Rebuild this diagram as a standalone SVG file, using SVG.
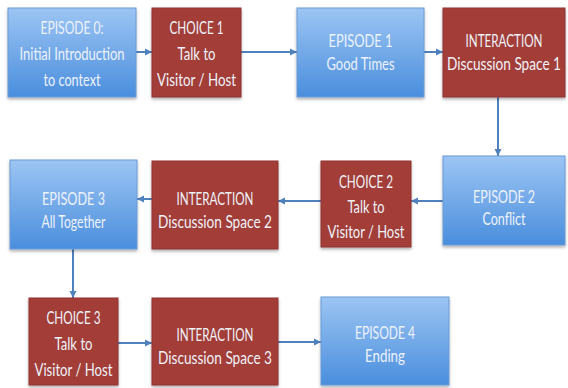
<svg xmlns="http://www.w3.org/2000/svg" width="568" height="388" viewBox="0 0 568 388">
<defs>
<linearGradient id="blue" x1="0" y1="0" x2="0" y2="1">
<stop offset="0" stop-color="#9cc5f3"/>
<stop offset="1" stop-color="#4a8edd"/>
</linearGradient>
<filter id="sh" x="-10%" y="-10%" width="120%" height="125%">
<feDropShadow dx="0" dy="2" stdDeviation="1.5" flood-color="#000" flood-opacity="0.3"/>
</filter>
<marker id="ah" markerWidth="8" markerHeight="8" refX="7" refY="4" orient="auto" markerUnits="userSpaceOnUse">
<path d="M0,0.5 L7,4 L0,7.5 Z" fill="#4f81bd"/>
</marker>
<style>
.b{fill:url(#blue);stroke:#6a9ad6;stroke-width:1;filter:url(#sh)}
.r{fill:#a23d39;stroke:#8f3330;stroke-width:1;filter:url(#sh)}
text{font-family:Lato,"Liberation Sans",sans-serif;font-size:18px;fill:#eef2f9;text-anchor:middle}
.c line{stroke:#4f81bd;stroke-width:2;marker-end:url(#ah)}
</style>
</defs>
<g class="c" id="connectors">
<line x1="136" y1="52" x2="152" y2="52"/>
<line x1="241" y1="52" x2="297" y2="52"/>
<line x1="424" y1="52" x2="443" y2="52"/>
<line x1="498" y1="97" x2="498" y2="156"/>
<line x1="443" y1="201" x2="411" y2="201"/>
<line x1="321" y1="201" x2="278" y2="201"/>
<line x1="152" y1="199" x2="137" y2="199"/>
<line x1="73" y1="249" x2="73" y2="298"/>
<line x1="118" y1="343" x2="152" y2="343"/>
<line x1="278" y1="342" x2="321" y2="342"/>
</g>
<g id="ep0"><rect class="b" x="8" y="8" width="128" height="89"/>
<text transform="translate(72,34) scale(0.75,1)" textLength="84" lengthAdjust="spacingAndGlyphs">EPISODE 0:</text>
<text transform="translate(72,60) scale(0.75,1)" textLength="140" lengthAdjust="spacingAndGlyphs">Initial Introduction</text>
<text transform="translate(72,86) scale(0.75,1)" textLength="76" lengthAdjust="spacingAndGlyphs">to context</text></g>
<g id="ch1"><rect class="r" x="152" y="8" width="89" height="89"/>
<text transform="translate(196.5,34) scale(0.75,1)" textLength="72" lengthAdjust="spacingAndGlyphs">CHOICE 1</text>
<text transform="translate(196.5,60) scale(0.75,1)" textLength="50.7" lengthAdjust="spacingAndGlyphs">Talk to</text>
<text transform="translate(196.5,86) scale(0.75,1)" textLength="105.3" lengthAdjust="spacingAndGlyphs">Visitor / Host</text></g>
<g id="ep1"><rect class="b" x="297" y="8" width="127" height="89"/>
<text transform="translate(360.5,47) scale(0.75,1)" textLength="85.3" lengthAdjust="spacingAndGlyphs">EPISODE 1</text>
<text transform="translate(360.5,70) scale(0.75,1)" textLength="90.7" lengthAdjust="spacingAndGlyphs">Good Times</text></g>
<g id="int1"><rect class="r" x="443" y="8" width="122" height="89"/>
<text transform="translate(504,47) scale(0.75,1)" textLength="102.7" lengthAdjust="spacingAndGlyphs">INTERACTION</text>
<text transform="translate(504,70) scale(0.75,1)" textLength="152" lengthAdjust="spacingAndGlyphs">Discussion Space 1</text></g>
<g id="ep2"><rect class="b" x="443" y="156" width="122" height="89"/>
<text transform="translate(504,203) scale(0.75,1)" textLength="82.7" lengthAdjust="spacingAndGlyphs">EPISODE 2</text>
<text transform="translate(504,225) scale(0.75,1)" textLength="57.3" lengthAdjust="spacingAndGlyphs">Conflict</text></g>
<g id="ch2"><rect class="r" x="321" y="161" width="90" height="86"/>
<text transform="translate(366,188) scale(0.75,1)" textLength="72" lengthAdjust="spacingAndGlyphs">CHOICE 2</text>
<text transform="translate(366,213) scale(0.75,1)" textLength="49.3" lengthAdjust="spacingAndGlyphs">Talk to</text>
<text transform="translate(366,238) scale(0.75,1)" textLength="102.7" lengthAdjust="spacingAndGlyphs">Visitor / Host</text></g>
<g id="int2"><rect class="r" x="152" y="161" width="126" height="88"/>
<text transform="translate(215,205) scale(0.75,1)" textLength="102.7" lengthAdjust="spacingAndGlyphs">INTERACTION</text>
<text transform="translate(215,228) scale(0.75,1)" textLength="152" lengthAdjust="spacingAndGlyphs">Discussion Space 2</text></g>
<g id="ep3"><rect class="b" x="10" y="160" width="127" height="89"/>
<text transform="translate(73.5,205) scale(0.75,1)" textLength="84" lengthAdjust="spacingAndGlyphs">EPISODE 3</text>
<text transform="translate(73.5,228) scale(0.75,1)" textLength="85.3" lengthAdjust="spacingAndGlyphs">All Together</text></g>
<g id="ch3"><rect class="r" x="29" y="298" width="89" height="87"/>
<text transform="translate(73.5,324) scale(0.75,1)" textLength="72" lengthAdjust="spacingAndGlyphs">CHOICE 3</text>
<text transform="translate(73.5,350) scale(0.75,1)" textLength="50.7" lengthAdjust="spacingAndGlyphs">Talk to</text>
<text transform="translate(73.5,376) scale(0.75,1)" textLength="104" lengthAdjust="spacingAndGlyphs">Visitor / Host</text></g>
<g id="int3"><rect class="r" x="152" y="298" width="126" height="87"/>
<text transform="translate(215,341) scale(0.75,1)" textLength="102.7" lengthAdjust="spacingAndGlyphs">INTERACTION</text>
<text transform="translate(215,364) scale(0.75,1)" textLength="152" lengthAdjust="spacingAndGlyphs">Discussion Space 3</text></g>
<g id="ep4"><rect class="b" x="321" y="297" width="128" height="88"/>
<text transform="translate(385,339) scale(0.75,1)" textLength="80" lengthAdjust="spacingAndGlyphs">EPISODE 4</text>
<text transform="translate(385,362) scale(0.75,1)" textLength="53.3" lengthAdjust="spacingAndGlyphs">Ending</text></g>
</svg>
